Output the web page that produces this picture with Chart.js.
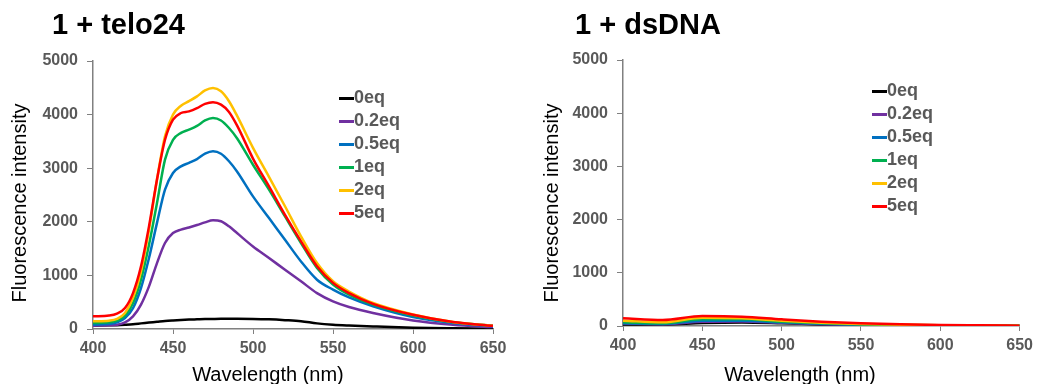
<!DOCTYPE html>
<html>
<head>
<meta charset="utf-8">
<script src="https://cdn.jsdelivr.net/npm/chart.js@4"></script>
<style>
  body { margin: 0; width: 1038px; height: 384px; overflow: hidden; background: #fff; position: relative; font-family: "Liberation Sans", Arial, sans-serif; }
  .panel { position: absolute; top: 0; height: 384px; }
  .title { position: absolute; font-weight: bold; font-size: 29px; line-height: 28px; color: #000; white-space: nowrap; }
  .xtitle { position: absolute; width: 220px; font-size: 20px; line-height: 20px; text-align: center; color: #000; }
  .ytitle { position: absolute; width: 260px; font-size: 20px; line-height: 20px; text-align: center; color: #000; transform: rotate(-90deg); }
  .legend { position: absolute; font-weight: bold; font-size: 18px; color: #595959; }
  .legend div { height: 23px; line-height: 23px; white-space: nowrap; }
  .legend span { display: inline-block; width: 15px; height: 3px; vertical-align: middle; }
</style>
</head>
<body>
<div class="panel" style="left:0;width:520px"><canvas id="telo" width="520" height="384"></canvas></div>
<div class="panel" style="left:520px;width:518px"><canvas id="ds" width="518" height="384"></canvas></div>

<div class="title" style="left:52px;top:10px">1 + telo24</div>
<div class="title" style="left:575px;top:10px">1 + dsDNA</div>
<div class="xtitle" style="left:158px;top:364px">Wavelength (nm)</div>
<div class="xtitle" style="left:690px;top:364px">Wavelength (nm)</div>
<div class="ytitle" style="left:-111px;top:193px">Fluorescence intensity</div>
<div class="ytitle" style="left:421px;top:193px">Fluorescence intensity</div>
<div class="legend" id="legTelo" style="left:339px;top:86px"></div>
<div class="legend" id="legDs" style="left:872px;top:79px"></div>

<script>
// series labels and colours
const labels = ['0eq', '0.2eq', '0.5eq', '1eq', '2eq', '5eq'];
const colors = ['#000000', '#7030A0', '#0070C0', '#00B050', '#FFC000', '#FF0000'];

// 1 + telo24
const teloWl = [400, 410, 415, 420, 425, 430, 435, 440, 445, 450, 455, 460, 465, 470, 475, 480, 485, 490, 500, 510, 520, 530, 540, 550, 560, 575, 600, 625, 650];
const telo0 = [62, 68, 72, 80, 90, 105, 120, 135, 150, 160, 168, 175, 180, 185, 188, 190, 190, 190, 188, 180, 165, 145, 105, 80, 65, 48, 25, 15, 10];
const telo02 = [62, 68, 80, 124, 236, 455, 795, 1230, 1605, 1790, 1855, 1895, 1940, 1990, 2030, 2010, 1915, 1790, 1540, 1325, 1105, 890, 670, 515, 410, 300, 160, 80, 35];
const telo05 = [80, 93, 124, 205, 390, 765, 1325, 1980, 2600, 2910, 3035, 3100, 3170, 3270, 3315, 3270, 3130, 2940, 2475, 2070, 1665, 1260, 920, 735, 590, 425, 225, 112, 50];
const telo1 = [112, 124, 155, 250, 485, 920, 1570, 2350, 3160, 3530, 3660, 3720, 3790, 3890, 3935, 3890, 3750, 3560, 3065, 2600, 2100, 1605, 1140, 830, 640, 455, 250, 125, 60];
const telo2 = [143, 155, 187, 300, 580, 1075, 1850, 2790, 3595, 4000, 4165, 4250, 4340, 4450, 4495, 4435, 4250, 3980, 3380, 2840, 2290, 1730, 1230, 890, 700, 485, 270, 130, 60];
const telo5 = [236, 250, 286, 390, 670, 1170, 1915, 2790, 3530, 3905, 4030, 4060, 4120, 4200, 4230, 4185, 4050, 3800, 3180, 2660, 2130, 1635, 1170, 860, 670, 470, 265, 130, 60];

// 1 + dsDNA
const dsWl = [400, 425, 450, 475, 500, 525, 550, 575, 600, 625, 650];
const ds0 = [30, 28, 55, 65, 50, 30, 15, 10, 8, 5, 3];
const ds02 = [45, 35, 80, 85, 60, 35, 20, 12, 9, 6, 4];
const ds05 = [50, 38, 100, 100, 69, 42, 25, 15, 10, 7, 4];
const ds1 = [69, 50, 125, 125, 81, 50, 30, 20, 12, 8, 5];
const ds2 = [100, 70, 156, 144, 100, 63, 38, 25, 15, 9, 5];
const ds5 = [144, 113, 188, 175, 125, 81, 50, 31, 19, 12, 6];

const xTicks = { min: 400, max: 650, step: 50 };
const yTicks = { min: 0, max: 5000, step: 1000 };

function makeDatasets(wl, series) {
  return series.map((vals, i) => ({
    label: labels[i],
    data: wl.map((w, j) => ({ x: w, y: vals[j] })),
    borderColor: colors[i],
    borderWidth: 2.5,
    pointRadius: 0,
    fill: false,
    cubicInterpolationMode: 'monotone'
  })).reverse();
}

function makeChart(id, wl, series, pad, yWidth, xHeight) {
  const tickFont = { family: '"Liberation Sans", Arial, sans-serif', size: 16, weight: 'bold' };
  return new Chart(document.getElementById(id), {
    type: 'line',
    data: { datasets: makeDatasets(wl, series) },
    options: {
      responsive: false,
      animation: false,
      layout: { padding: pad },
      plugins: { legend: { display: false }, tooltip: { enabled: false } },
      scales: {
        x: {
          type: 'linear',
          min: xTicks.min, max: xTicks.max,
          ticks: { stepSize: xTicks.step, color: '#595959', font: tickFont, padding: 5, maxRotation: 0, callback: v => String(v) },
          grid: { drawOnChartArea: false, tickLength: 5, color: '#808080' },
          border: { color: '#808080', width: 1.5 },
          afterFit: s => { s.height = xHeight; }
        },
        y: {
          min: yTicks.min, max: yTicks.max,
          ticks: { stepSize: yTicks.step, color: '#595959', font: tickFont, padding: 9, callback: v => String(v) },
          grid: { drawOnChartArea: false, tickLength: 6, color: '#808080' },
          border: { color: '#808080', width: 1.5 },
          afterFit: s => { s.width = yWidth; }
        }
      }
    }
  });
}

function makeLegend(id) {
  const el = document.getElementById(id);
  labels.forEach((l, i) => {
    const row = document.createElement('div');
    const sw = document.createElement('span');
    sw.style.background = colors[i];
    row.appendChild(sw);
    row.appendChild(document.createTextNode(l));
    el.appendChild(row);
  });
}

makeChart('telo', teloWl, [telo0, telo02, telo05, telo1, telo2, telo5], { top: 61, right: 27, bottom: 0, left: 0 }, 93, 55);
makeChart('ds', dsWl, [ds0, ds02, ds05, ds1, ds2, ds5], { top: 60, right: 15, bottom: 0, left: 0 }, 103, 58);
makeLegend('legTelo');
makeLegend('legDs');
</script>
</body>
</html>
